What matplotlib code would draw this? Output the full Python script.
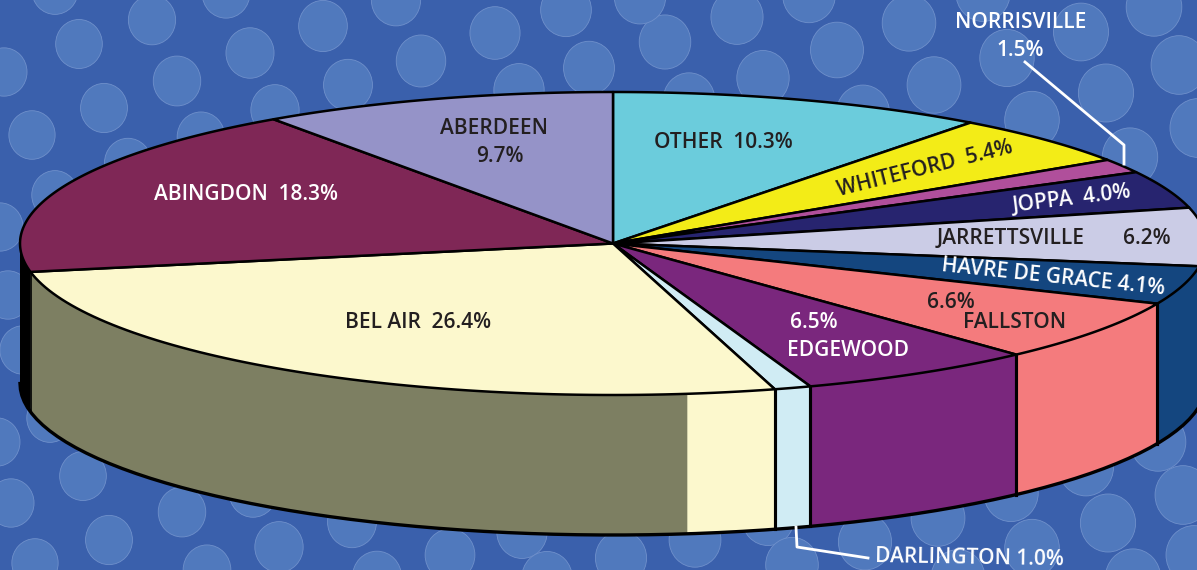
import matplotlib
matplotlib.use("Agg")
import matplotlib.pyplot as plt
from matplotlib.patches import Polygon, Ellipse
import numpy as np

towns = ["OTHER", "WHITEFORD", "NORRISVILLE", "JOPPA", "JARRETTSVILLE", "HAVRE DE GRACE",
         "FALLSTON", "EDGEWOOD", "DARLINGTON", "BEL AIR", "ABINGDON", "ABERDEEN"]
shares = [10.3, 5.4, 1.5, 4.0, 6.2, 4.1, 6.6, 6.5, 1.0, 26.4, 18.3, 9.7]
colors = ["#6bccdc", "#f3ec17", "#b04f9b", "#27246f", "#cbcce6", "#14467f",
          "#f47b7d", "#7a277d", "#d0ecf4", "#fcf8cd", "#7f2756", "#9593c8"]
wall_colors = list(colors)
wall_colors[towns.index("ABINGDON")] = "#000000"

# background dots, pixel positions
dot_x = [152, 79, 250, 323, 421, 495, 177, 104, 32, 4, 348, 275, 201, 128, 55, 519, 396, 226, 55, 566, 589, 0,
         665, 737, 837, 909, 763, 689, 934, 1007, 1081, 1154, 1179, 1106, 1032, 863, 1130, 1198, 640, 809, 983,
         83, 11, 182, 109, 35, 279, 207, 352, 450, 377, 522, 547, 253, 50, -3, 23, 8,
         621, 695, 768, 792, 865, 938, 1032, 1011, 1108, 1183, 1086, 1158, 1133, 1194, 958]
dot_y = [20, 44, 53, 26, 61, 33, 81, 108, 135, 72, 85, 110, 137, 163, 195, 90, 0, -7, -10, 10, 68, 227,
         42, 17, 50, 23, 78, 100, 85, 58, 32, 7, 65, 93, 120, 113, 157, 128, -3, -5, -7,
         476, 503, 512, 540, 563, 547, 570, 522, 555, 577, 532, 578, 492, 418, 442, 350, 295,
         558, 540, 518, 565, 542, 518, 548, 493, 523, 495, 467, 442, 578, 555, 578]

cx, cy = 613, 243.5
rx, ry = 593, 151.5
depth = 140


def rim(a, drop=0):
    # a is degrees clockwise from the top of the pie
    r = np.radians(a)
    return cx + rx * np.sin(r), cy - ry * np.cos(r) + drop


def arc(a0, a1, drop=0):
    t = np.linspace(a0, a1, 80)
    x, y = rim(t, drop)
    return np.column_stack([x, y])


fig = plt.figure(figsize=(11.97, 5.70), dpi=100, facecolor="#3a60ac")
ax = fig.add_axes([0, 0, 1, 1])
ax.set_xlim(0, 1197)
ax.set_ylim(570, 0)
ax.axis("off")

for x, y in zip(dot_x, dot_y):
    d = 2 * (23 + 5 * x / 1197)
    ax.add_patch(Ellipse((x, y), d, d * 1.05, fc="#5079bd", ec="#6f90cb", lw=0.6, zorder=1))

edges = np.concatenate([[0], np.cumsum(shares)]) / sum(shares) * 360

# side wall
for i, (a0, a1) in enumerate(zip(edges[:-1], edges[1:])):
    lo, hi = max(a0, 90), min(a1, 270)
    if hi <= lo:
        continue
    pts = np.vstack([arc(lo, hi), arc(hi, lo, depth)])
    ax.add_patch(Polygon(pts, fc=wall_colors[i], ec="none", zorder=2))
    if towns[i] == "BEL AIR":
        # shaded part of the wall, the front stays cream
        pts = np.vstack([arc(172.8, hi), arc(hi, 172.8, depth)])
        ax.add_patch(Polygon(pts, fc="#7d7f62", ec="none", zorder=2.1))
    for a in (lo, hi):
        if 90 < a < 259:
            x, y = rim(a)
            ax.plot([x, x], [y, y + depth], color="black", lw=2.2, zorder=3)
x33, y33 = rim(edges[towns.index("BEL AIR") + 1])
ax.plot([x33, x33], [y33, y33 + depth], color="black", lw=1.2, zorder=3)
bottom = arc(90, 270, depth)
ax.plot(bottom[:, 0], bottom[:, 1], color="black", lw=2.4, zorder=3)

# top face
for i, (a0, a1) in enumerate(zip(edges[:-1], edges[1:])):
    pts = np.vstack([[cx, cy], arc(a0, a1)])
    ax.add_patch(Polygon(pts, fc=colors[i], ec="black", lw=1.8, joinstyle="round", zorder=4))

# leader lines
ax.plot([1025, 1124, 1124], [62, 145, 164], color="white", lw=2, zorder=5)
ax.plot([796, 797, 868], [527, 547, 558], color="white", lw=2, zorder=5)

plt.rcParams["font.family"] = ["Open Sans", "DejaVu Sans"]
dark = "#231f20"


def pct(town):
    return f"{shares[towns.index(town)]:.1f}%"


def label(x, y, s, c=dark, rot=0):
    ax.text(x, y, s, color=c, ha="center", va="center", fontsize=15, fontweight="semibold",
            rotation=rot, rotation_mode="anchor", zorder=6)


label(1021, 22, "NORRISVILLE", "white")
label(1020, 50, pct("NORRISVILLE"), "white")
label(723, 142, "OTHER  " + pct("OTHER"))
label(925, 169, "WHITEFORD  " + pct("WHITEFORD"), rot=14)
label(1072, 199, "JOPPA  " + pct("JOPPA"), "white", rot=7)
label(1011, 238, "JARRETTSVILLE")
label(1147, 238, pct("JARRETTSVILLE"))
label(1053, 277, "HAVRE DE GRACE " + pct("HAVRE DE GRACE"), "white", rot=-6)
label(951, 303, pct("FALLSTON"))
label(1015, 322, "FALLSTON")
label(814, 322, pct("EDGEWOOD"), "white")
label(848, 351, "EDGEWOOD", "white")
label(418, 322, "BEL AIR  " + pct("BEL AIR"))
label(246, 194, "ABINGDON  " + pct("ABINGDON"), "white")
label(494, 128, "ABERDEEN")
label(500, 157, pct("ABERDEEN"))
label(969, 558, "DARLINGTON " + pct("DARLINGTON"), "white", rot=-1)

fig.savefig("out.png", dpi=100, facecolor=fig.get_facecolor())
